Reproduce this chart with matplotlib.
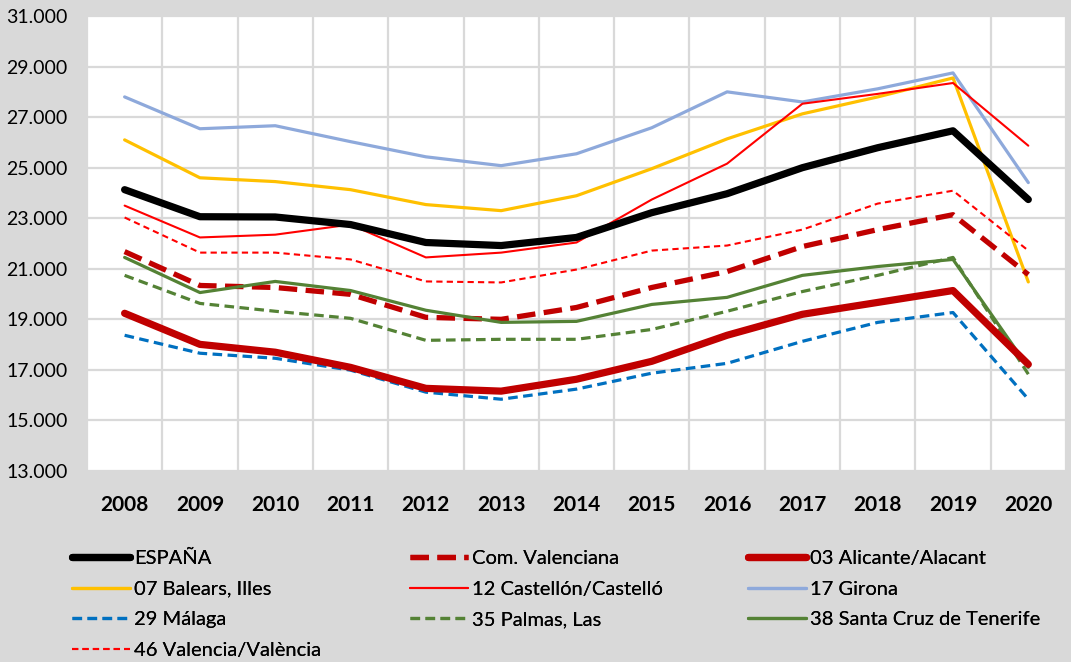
import matplotlib
matplotlib.use("Agg")
import matplotlib.pyplot as plt
from matplotlib.ticker import FuncFormatter

# datos
anios = ['2008', '2009', '2010', '2011', '2012', '2013', '2014',
         '2015', '2016', '2017', '2018', '2019', '2020']

espana = [24130, 23060, 23050, 22750, 22040, 21920, 22240, 23220, 23970, 25000, 25790, 26460, 23740]
com_valenciana = [21680, 20340, 20260, 19990, 19080, 19000, 19470, 20260, 20890, 21880, 22550, 23140, 20770]
alicante = [19240, 18010, 17700, 17100, 16270, 16160, 16630, 17340, 18370, 19200, 19670, 20140, 17220]
baleares = [26100, 24600, 24450, 24130, 23540, 23300, 23890, 24960, 26140, 27130, 27800, 28550, 20480]
castellon = [23500, 22240, 22350, 22750, 21450, 21640, 22040, 23740, 25160, 27530, 27920, 28350, 25870]
girona = [27800, 26540, 26660, 26030, 25430, 25080, 25550, 26580, 28000, 27600, 28120, 28750, 24410]
malaga = [18370, 17660, 17460, 16990, 16120, 15840, 16240, 16870, 17260, 18130, 18880, 19270, 15840]
las_palmas = [20740, 19630, 19320, 19040, 18170, 18210, 18210, 18600, 19320, 20100, 20740, 21450, 16830]
tenerife = [21450, 20060, 20500, 20140, 19360, 18880, 18920, 19590, 19870, 20740, 21090, 21370, 17100]
valencia = [23030, 21640, 21640, 21370, 20500, 20460, 20970, 21720, 21920, 22550, 23580, 24090, 21720]

yticks = [13000, 15000, 17000, 19000, 21000, 23000, 25000, 27000, 29000, 31000]

fuente = ['Lato', 'DejaVu Sans']
plt.rcParams['font.family'] = fuente

fig = plt.figure(figsize=(10.71, 6.62), dpi=100, facecolor='#D9D9D9')
ax = fig.add_axes([0.0812, 0.2885, 0.9141, 0.6873])
ax.set_facecolor('white')

x = list(range(len(anios)))

series = [
    # (valores, etiqueta, color, ancho, guiones)
    (girona, '17 Girona', '#8EA9DB', 2.3, None),
    (baleares, '07 Balears, Illes', '#FFC000', 2.3, None),
    (castellon, '12 Castellón/Castelló', '#FF0000', 1.5, None),
    (valencia, '46 Valencia/València', '#FF0000', 1.5, (3, 2)),
    (com_valenciana, 'Com. Valenciana', '#C00000', 3.8, (3.5, 1.6)),
    (tenerife, '38 Santa Cruz de Tenerife', '#548235', 2.3, None),
    (las_palmas, '35 Palmas, Las', '#548235', 2.3, (3, 1.7)),
    (malaga, '29 Málaga', '#0070C0', 2.3, (3, 1.7)),
    (alicante, '03 Alicante/Alacant', '#C00000', 5.2, None),
    (espana, 'ESPAÑA', '#000000', 5.2, None),
]

lineas = {}
for vals, lab, col, lw, ds in series:
    ln, = ax.plot(x, vals, color=col, lw=lw, label=lab,
                  solid_capstyle='round', dash_capstyle='butt')
    if ds is not None:
        ln.set_dashes(ds)
    lineas[lab] = ln

ax.set_xlim(-0.5, len(anios) - 0.5)
ax.set_ylim(13000, 31000)
ax.set_yticks(yticks)
ax.yaxis.set_major_formatter(FuncFormatter(lambda v, p: f"{int(v):,}".replace(',', '.')))
ax.set_xticks(x)
ax.set_xticklabels(anios, fontweight='bold')
ax.set_xticks([i + 0.5 for i in range(-1, len(anios))], minor=True)

ax.grid(axis='y', which='major', color='#D9D9D9', lw=1.6)
ax.grid(axis='x', which='minor', color='#D9D9D9', lw=1.6)
ax.set_axisbelow(True)
ax.tick_params(axis='both', which='both', length=0)
ax.tick_params(axis='y', labelsize=14, pad=14)
ax.tick_params(axis='x', labelsize=15, pad=17)
for s in ax.spines.values():
    s.set_visible(False)

# leyenda: tres columnas colocadas a mano
columnas = [
    (['ESPAÑA', '07 Balears, Illes', '29 Málaga', '46 Valencia/València'], 72),
    (['Com. Valenciana', '12 Castellón/Castelló', '35 Palmas, Las'], 410),
    (['03 Alicante/Alacant', '17 Girona', '38 Santa Cruz de Tenerife'], 748),
]
W, H = 1071.0, 662.0
for etiquetas, xpix in columnas:
    leg = fig.legend([lineas[k] for k in etiquetas], etiquetas, loc='upper left',
                     bbox_to_anchor=(xpix / W, 1 - 550 / H), frameon=False,
                     fontsize=14.5, handlelength=2.9, handletextpad=0.2,
                     labelspacing=0.67, borderaxespad=0, borderpad=0)
    fig.add_artist(leg)

plt.savefig('out.png', dpi=100, facecolor=fig.get_facecolor())
